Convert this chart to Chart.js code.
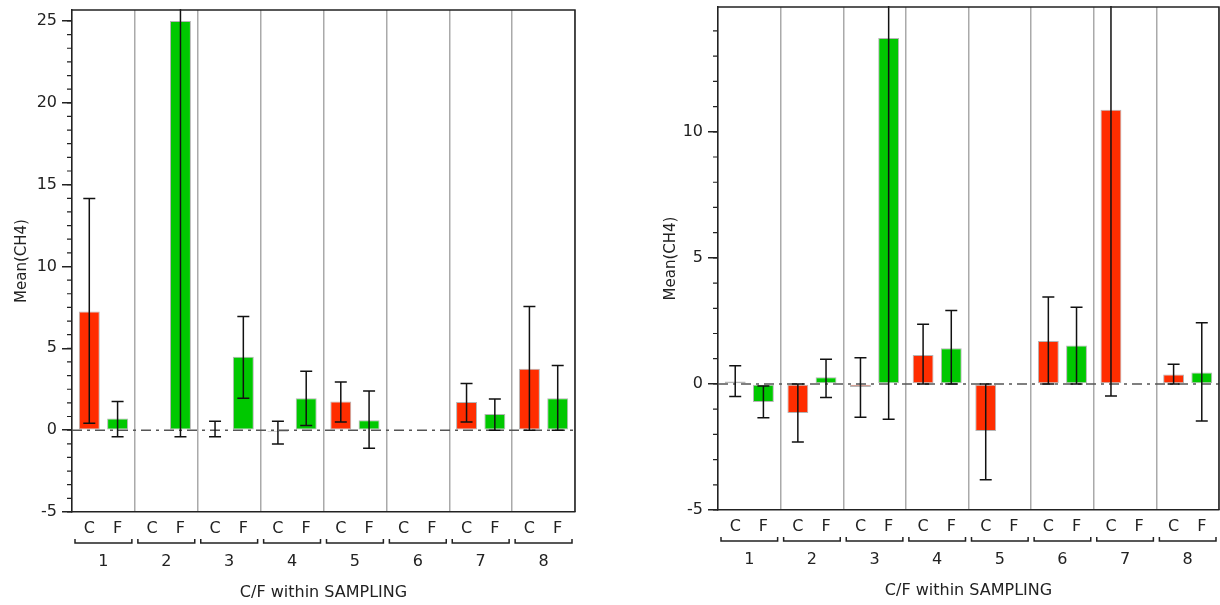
<!DOCTYPE html>
<html lang="en">
<head>
    <meta charset="UTF-8">
    <title>Mean(CH4) by C/F within SAMPLING</title>
    <script src="https://cdn.jsdelivr.net/npm/chart.js"></script>
    <style>
        body { margin: 0; background: #fff; }
        canvas { position: absolute; top: 0; }
        #leftChart { left: 0; }
        #rightChart { left: 620px; }
    </style>
</head>
<body>

    <canvas id="leftChart" width="600" height="605"></canvas>
    <canvas id="rightChart" width="600" height="605"></canvas>

    <script>
        // Groups and sub-categories
        const samplings = ['1', '2', '3', '4', '5', '6', '7', '8'];
        const subLabels = ['C', 'F'];

        // Left panel: means and error bar ends (null = no data)
        const leftC = [7.25, null, 0.06, -0.1, 1.75, null, 1.72, 3.75];
        const leftF = [0.72, 25.0, 4.48, 1.95, 0.6, null, 0.98, 1.95];
        const leftCLow = [0.42, null, -0.4, -0.85, 0.5, null, 0.5, 0];
        const leftCHigh = [14.15, null, 0.55, 0.55, 2.95, null, 2.85, 7.55];
        const leftFLow = [-0.4, -0.4, 1.95, 0.28, -1.1, null, 0, 0];
        const leftFHigh = [1.75, 40, 6.95, 3.6, 2.4, null, 1.9, 3.95];

        // Right panel
        const rightC = [0.1, -1.15, -0.12, 1.15, -1.87, 1.7, 10.87, 0.37];
        const rightF = [-0.72, 0.27, 13.72, 1.42, null, 1.52, null, 0.45];
        const rightCLow = [-0.5, -2.3, -1.32, 0, -3.8, 0, -0.48, 0];
        const rightCHigh = [0.72, 0, 1.04, 2.37, 0, 3.45, 30, 0.78];
        const rightFLow = [-1.34, -0.54, -1.4, 0, null, 0, null, -1.47];
        const rightFHigh = [-0.08, 0.98, 30, 2.91, null, 3.04, null, 2.43];

        const RED = '#ff2d00';
        const GREEN = '#00c800';
        const CAT_PCT = 0.9;
        const FONT = '"DejaVu Sans", Verdana, sans-serif';

        // zero reference line, drawn behind the bars
        const zeroLine = {
            id: 'zeroLine',
            beforeDatasetsDraw(chart) {
                const { ctx, chartArea } = chart;
                const y0 = chart.scales.y.getPixelForValue(0);
                ctx.save();
                ctx.strokeStyle = '#555';
                ctx.lineWidth = 1.5;
                ctx.setLineDash([10, 5, 3, 5]);
                ctx.beginPath();
                ctx.moveTo(chartArea.left, y0);
                ctx.lineTo(chartArea.right, y0);
                ctx.stroke();
                ctx.restore();
            }
        };

        // error bars from the dataset's low/high arrays
        const errorBars = {
            id: 'errorBars',
            afterDatasetsDraw(chart) {
                const { ctx, chartArea } = chart;
                const y = chart.scales.y;
                ctx.save();
                ctx.beginPath();
                ctx.rect(chartArea.left, chartArea.top - 1, chartArea.right - chartArea.left, chartArea.bottom - chartArea.top + 2);
                ctx.clip();
                ctx.strokeStyle = '#111';
                ctx.lineWidth = 1.5;
                chart.data.datasets.forEach((ds, i) => {
                    const meta = chart.getDatasetMeta(i);
                    ds.data.forEach((v, j) => {
                        if (v === null || ds.errLow[j] === null) return;
                        const x = meta.data[j].x;
                        const yLo = y.getPixelForValue(ds.errLow[j]);
                        const yHi = y.getPixelForValue(ds.errHigh[j]);
                        ctx.beginPath();
                        ctx.moveTo(x, yLo); ctx.lineTo(x, yHi);
                        ctx.moveTo(x - 6, yLo); ctx.lineTo(x + 6, yLo);
                        ctx.moveTo(x - 6, yHi); ctx.lineTo(x + 6, yHi);
                        ctx.stroke();
                    });
                });
                ctx.restore();
            }
        };

        // frame, minor ticks and the nested x labels (C/F, bracket, sampling)
        const decorations = {
            id: 'decorations',
            afterDraw(chart) {
                const { ctx, chartArea } = chart;
                const x = chart.scales.x, y = chart.scales.y;
                const opts = chart.options.plugins.decorations;
                ctx.save();

                // top and right border
                ctx.strokeStyle = '#222';
                ctx.lineWidth = 1.5;
                ctx.beginPath();
                ctx.moveTo(chartArea.left, chartArea.top);
                ctx.lineTo(chartArea.right, chartArea.top);
                ctx.lineTo(chartArea.right, chartArea.bottom);
                ctx.stroke();

                // minor ticks on y
                ctx.lineWidth = 1.2;
                ctx.beginPath();
                for (let v = y.min; v <= y.max + 1e-9; v += opts.minorStep) {
                    const py = y.getPixelForValue(v);
                    ctx.moveTo(chartArea.left - 5, py);
                    ctx.lineTo(chartArea.left, py);
                }
                ctx.stroke();

                // x labels
                const catW = x.getPixelForValue(1) - x.getPixelForValue(0);
                ctx.fillStyle = '#222';
                ctx.font = '16px ' + FONT;
                ctx.textAlign = 'center';
                ctx.textBaseline = 'middle';
                ctx.lineWidth = 1.5;
                samplings.forEach((s, j) => {
                    const cx = x.getPixelForValue(j);
                    const d = catW * CAT_PCT / 4;
                    ctx.fillText(subLabels[0], cx - d, chartArea.bottom + 17);
                    ctx.fillText(subLabels[1], cx + d, chartArea.bottom + 17);
                    const l = cx - catW / 2 + 3, r = cx + catW / 2 - 3;
                    const by = chartArea.bottom + 31;
                    ctx.beginPath();
                    ctx.moveTo(l, by - 4); ctx.lineTo(l, by); ctx.lineTo(r, by); ctx.lineTo(r, by - 4);
                    ctx.stroke();
                    ctx.fillText(s, cx, chartArea.bottom + 50);
                });
                ctx.fillText('C/F within SAMPLING', (chartArea.left + chartArea.right) / 2, chartArea.bottom + 81);
                ctx.restore();
            }
        };

        function createChart(id, cVals, fVals, cLow, cHigh, fLow, fHigh, yMax, minorStep, layout) {
            return new Chart(document.getElementById(id), {
                type: 'bar',
                data: {
                    labels: samplings,
                    datasets: [
                        { label: 'C', data: cVals, errLow: cLow, errHigh: cHigh, backgroundColor: RED },
                        { label: 'F', data: fVals, errLow: fLow, errHigh: fHigh, backgroundColor: GREEN }
                    ]
                },
                options: {
                    responsive: false,
                    animation: false,
                    datasets: {
                        bar: {
                            categoryPercentage: CAT_PCT,
                            barPercentage: 0.74,
                            borderWidth: 1,
                            borderColor: 'rgba(120,120,120,0.55)',
                            borderSkipped: false
                        }
                    },
                    layout: { padding: layout.padding },
                    plugins: {
                        legend: { display: false },
                        tooltip: { enabled: false },
                        decorations: { minorStep: minorStep }
                    },
                    scales: {
                        x: {
                            grid: { offset: true, color: '#aaa', lineWidth: 1.5, drawTicks: false },
                            border: { color: '#222', width: 1.5 },
                            ticks: { display: false },
                            afterFit(scale) { scale.height = layout.xHeight; }
                        },
                        y: {
                            min: -5,
                            max: yMax,
                            ticks: {
                                color: '#222',
                                padding: 5,
                                font: { family: FONT, size: 16 }
                            },
                            afterBuildTicks(scale) {
                                const t = [];
                                for (let v = -5; v <= yMax; v += 5) t.push({ value: v });
                                scale.ticks = t;
                            },
                            grid: { drawOnChartArea: false, drawTicks: true, tickLength: 10, color: '#222', lineWidth: 1.5 },
                            border: { color: '#222', width: 1.5 },
                            title: {
                                display: true,
                                text: 'Mean(CH4)',
                                color: '#222',
                                font: { family: FONT, size: 15 },
                                padding: { top: layout.titlePad, bottom: 0 }
                            },
                            afterFit(scale) {
                                scale.width = layout.yWidth;
                                scale.paddingTop = 0;
                                scale.paddingBottom = 0;
                            }
                        }
                    }
                },
                plugins: [zeroLine, errorBars, decorations]
            });
        }

        createChart('leftChart', leftC, leftF, leftCLow, leftCHigh, leftFLow, leftFHigh, 25.67, 5 / 6,
            { padding: { top: 10, right: 25, left: 0, bottom: 0 }, xHeight: 93, yWidth: 72, titlePad: 13 });
        createChart('rightChart', rightC, rightF, rightCLow, rightCHigh, rightFLow, rightFHigh, 14.95, 1,
            { padding: { top: 7, right: 1, left: 0, bottom: 0 }, xHeight: 95, yWidth: 98, titlePad: 42 });
    </script>

</body>
</html>
